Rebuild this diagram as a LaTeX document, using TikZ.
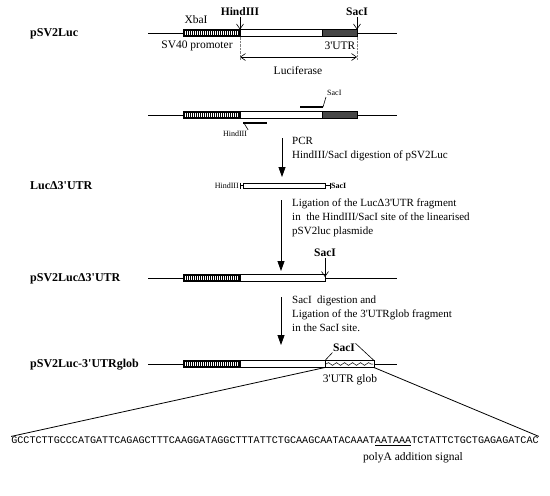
\documentclass[tikz,border=0pt]{standalone}
\usepackage{fontspec}
\setmainfont{Liberation Serif}
\newfontfamily\seqfont{Liberation Mono}
\usetikzlibrary{positioning, arrows.meta, calc, decorations.pathmorphing}
\definecolor{utrgray}{HTML}{474747}
\newcommand{\tq}{\textquotesingle}

\tikzset{
  dna/.style={line width=0.7pt},
  cname/.style={font=\bfseries\fontsize{12}{14}\selectfont, anchor=west, inner sep=0pt},
  site/.style={font=\bfseries\fontsize{11.5}{13}\selectfont, inner sep=1pt},
  tag/.style={font=\fontsize{11.5}{13}\selectfont, inner sep=1pt},
  tiny site/.style={font=\fontsize{8}{9}\selectfont, inner sep=1pt},
  note/.style={font=\fontsize{11}{14}\selectfont, anchor=north west, align=left, inner sep=0pt},
  cut/.style={line width=0.6pt, -{Straight Barb[length=5pt,width=7pt]}},
  stagearrow/.style={line width=0.8pt, -{Triangle[width=7pt,length=10pt]}}
}

\newcommand{\svpromoter}[1]{%
  \draw[fill=black] (183,#1-3.5) rectangle (240,#1+3.5);
  \foreach \sx in {185,187,...,237}{\draw[white,line width=0.6pt] (\sx,#1-2) -- (\sx,#1+2);}
}

\begin{document}
\begin{tikzpicture}[x=1pt,y=-1pt]
  \useasboundingbox (0,0) rectangle (550,496);
  \def\bh{3.5}

  % pSV2Luc
  \node[cname] (pSV) at (30,34) {pSV2Luc};
  \draw[dna] (148,33) -- (397,33);
  \svpromoter{33}
  \draw[fill=white] (240,33-\bh) rectangle (322,33+\bh);
  \draw[fill=utrgray] (322,33-\bh) rectangle (357,33+\bh);
  \node[site] (hindA) at (240,12) {HindIII};
  \node[site] (sacA) at (357,12) {SacI};
  \node[tag] (xba) at (196,20) {XbaI};
  \coordinate (hindAcut) at (240,33-\bh);
  \coordinate (sacAcut) at (357,33-\bh);
  \draw[cut] (hindA) -- (hindAcut);
  \draw[cut] (sacA) -- (sacAcut);
  \node[tag] (sv40) at (197,46) {SV40 promoter};
  \node[tag] (utrA) at (340,46) {3\tq UTR};
  \draw[gray, densely dotted] (240,33+\bh) -- (240,60);
  \draw[gray, densely dotted] (357,33+\bh) -- (357,60);
  \coordinate (lucL) at (240,57);
  \coordinate (lucR) at (357,57);
  \draw[line width=0.6pt, {Straight Barb[length=5pt,width=7pt]}-{Straight Barb[length=5pt,width=7pt]}] (lucL) -- (lucR);
  \node[tag] (luc) at (298,71) {Luciferase};

  % primers
  \draw[dna] (148,115) -- (397,115);
  \svpromoter{115}
  \draw[fill=white] (240,115-\bh) rectangle (322,115+\bh);
  \draw[fill=utrgray] (322,115-\bh) rectangle (357,115+\bh);
  \draw[line width=2.2pt] (300,107) -- (323,107);
  \draw[line width=2.2pt] (243,123) -- (267,123);
  \node[tiny site, anchor=south west] (sacP) at (326,97) {SacI};
  \node[tiny site, anchor=north] (hindP) at (235,130) {HindIII};
  \coordinate (sacPend) at (323,107);
  \coordinate (hindPend) at (244,123);
  \draw[line width=0.6pt] (sacPend) -- (sacP.south west);
  \draw[line width=0.6pt] (hindPend) -- (hindP.north east);

  % PCR step
  \coordinate (stepAtop) at (282,138);
  \coordinate (stepAbot) at (282,177);
  \draw[stagearrow] (stepAtop) -- (stepAbot);
  \node[note] (pcr) at (292,137) {PCR\\HindIII/SacI digestion of pSV2Luc};

  % LucD3'UTR fragment
  \node[cname] (frag) at (30,186) {LucΔ3\tq UTR};
  \draw[fill=white] (243,183) rectangle (325,188);
  \draw[line width=0.6pt] (240,185.5) -- (243,185.5) (240,182.5) -- (240,188.5);
  \draw[line width=0.6pt] (325,185.5) -- (330,185.5) (330,182.5) -- (330,188.5);
  \node[tiny site, anchor=east] (hindF) at (240,185.5) {HindIII};
  \node[tiny site, anchor=west, font=\bfseries\fontsize{8}{9}\selectfont] (sacF) at (330,185.5) {SacI};

  % ligation step
  \coordinate (stepBtop) at (281,200);
  \coordinate (stepBbot) at (281,271);
  \draw[stagearrow] (stepBtop) -- (stepBbot);
  \node[note] (lig) at (292,199) {Ligation of the LucΔ3\tq UTR fragment\\in\ \ the HindIII/SacI site of the linearised\\pSV2luc plasmide};

  % pSV2LucD3'UTR
  \node[cname] (pSVd) at (30,279) {pSV2LucΔ3\tq UTR};
  \draw[dna] (148,278) -- (397,278);
  \svpromoter{278}
  \draw[fill=white] (240,278-\bh) rectangle (325,278+\bh);
  \node[site] (sacD) at (325,253) {SacI};
  \coordinate (sacDcut) at (325,277);
  \draw[cut] (sacD) -- (sacDcut);

  % SacI step
  \coordinate (stepCtop) at (281,297);
  \coordinate (stepCbot) at (281,345);
  \draw[stagearrow] (stepCtop) -- (stepCbot);
  \node[note] (sacstep) at (292,296) {SacI\ \ digestion and\\Ligation of the 3\tq UTRglob fragment\\in the SacI site.};

  % pSV2Luc-3'UTRglob
  \node[cname] (pSVg) at (30,365) {pSV2Luc-3\tq UTRglob};
  \draw[dna] (148,364) -- (397,364);
  \svpromoter{364}
  \draw[fill=white] (240,364-\bh) rectangle (325,364+\bh);
  \draw[fill=white] (325,364-\bh) rectangle (374,364+\bh);
  \draw[line width=0.5pt, decorate, decoration={snake, segment length=8pt, amplitude=1.4pt}] (326,364) -- (373,364);
  \node[site, inner sep=0.5pt] (sacG) at (344,348) {SacI};
  \coordinate (globL) at (325,364-\bh);
  \coordinate (globR) at (374,364-\bh);
  \draw[line width=0.6pt] (globL) -- (sacG.south west);
  \draw[line width=0.6pt] (sacG.north east) -- (globR);
  \node[tag] (glob) at (350,380) {3\tq UTR glob};

  % sequence
  \node[inner sep=0pt] (seq) at (275,441) {\seqfont\fontsize{10.1}{12}\selectfont GCCTCTTGCCCATGATTCAGAGCTTTCAAGGATAGGCTTTATTCTGCAAGCAATACAAAT\underline{AATAAA}TCTATTCTGCTGAGAGATCAC};
  \coordinate (zoomL) at (325,364+\bh);
  \coordinate (zoomR) at (374,364+\bh);
  \draw[line width=0.8pt] (zoomL) -- (seq.north west);
  \draw[line width=0.8pt] (zoomR) -- (seq.north east);
  \node[tag] (polyA) at (413,458) {polyA addition signal};
\end{tikzpicture}
\end{document}
